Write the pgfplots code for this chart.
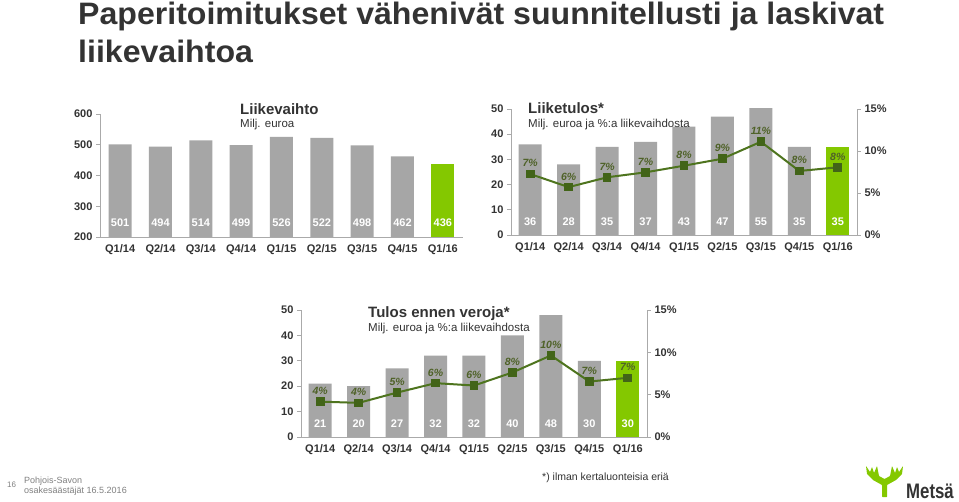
\documentclass[border=0pt]{standalone}
\usepackage{fontspec}
\setmainfont{Liberation Sans}
\usepackage{pgfplots}
\pgfplotsset{compat=1.18}
\definecolor{bargray}{RGB}{166,166,166}
\definecolor{bargreen}{RGB}{132,200,0}
\definecolor{linegreen}{RGB}{78,116,30}
\definecolor{markgreen}{RGB}{66,100,24}
\definecolor{pctgreen}{RGB}{79,98,40}
\definecolor{txt}{RGB}{51,51,51}
\definecolor{axisgray}{RGB}{170,170,170}
\definecolor{foot}{RGB}{128,128,128}
\pgfplotsset{
  qbase/.style={
    scale only axis,
    xmin=-0.5, xmax=8.5,
    xtick={0,...,8},
    xticklabels={Q1/14,Q2/14,Q3/14,Q4/14,Q1/15,Q2/15,Q3/15,Q4/15,Q1/16},
    axis x line*=bottom, axis y line*=left,
    axis line style={draw=axisgray, line width=0.8pt, -},
    x tick style={draw=none},
    y tick style={draw=axisgray, line width=0.8pt},
    major tick length=4pt,
    tick align=outside,
    tick label style={font=\fontsize{11}{13}\selectfont\bfseries, text=txt},
    clip=true,
  },
  raxis/.style={
    scale only axis,
    xmin=-0.5, xmax=8.5,
    axis x line=none, xtick=\empty,
    axis y line*=right,
    ymin=0, ymax=15,
    ytick={0,5,10,15}, yticklabels={0\%,5\%,10\%,15\%},
    axis line style={draw=axisgray, line width=0.8pt, -},
    y tick style={draw=axisgray, line width=0.8pt},
    major tick length=4pt,
    tick align=outside,
    tick label style={font=\fontsize{11}{13}\selectfont\bfseries, text=txt},
    clip=false,
  },
  gbar/.style={ybar, bar width=23pt, bar shift=0pt, fill=bargray, draw=none},
  lbar/.style={ybar, bar width=23pt, bar shift=0pt, fill=bargreen, draw=none},
  vlab/.style={draw=none, mark=none, nodes near coords, point meta=explicit symbolic,
    every node near coord/.append style={anchor=center, font=\fontsize{11}{13}\selectfont\bfseries, text=white, inner sep=0pt}},
  pline/.style={color=linegreen, line width=2pt, mark=square*, mark size=3.8pt,
    mark options={fill=markgreen, draw=markgreen, line width=0pt},
    nodes near coords, point meta=explicit symbolic,
    every node near coord/.append style={anchor=south, yshift=7pt, font=\fontsize{10.5}{12}\selectfont\bfseries\itshape, text=pctgreen, inner sep=0pt}},
}
\begin{document}
\begin{tikzpicture}[x=1pt,y=1pt]
\path[use as bounding box, fill=white] (0,0) rectangle (959,501);

% Main title
\node[anchor=base west, inner sep=0pt, text=txt, font=\fontsize{31}{36}\selectfont\bfseries, xscale=1.035] at (78,476) {Paperitoimitukset vähenivät suunnitellusti ja laskivat};
\node[anchor=base west, inner sep=0pt, text=txt, font=\fontsize{31}{36}\selectfont\bfseries, xscale=1.035] at (78,438) {liikevaihtoa};

% Chart 1: Liikevaihto
\begin{axis}[qbase, at={(100pt,264pt)}, anchor=south west, width=363pt, height=123pt,
  ymin=200, ymax=600, ytick={200,300,400,500,600}, yticklabels={200,300,400,500,600}]
\addplot[gbar] coordinates {(0,501) (1,494) (2,514) (3,499) (4,526) (5,522) (6,498) (7,462)};
\addplot[lbar] coordinates {(8,436)};
\addplot[vlab] coordinates {(0,245)[501] (1,245)[494] (2,245)[514] (3,245)[499] (4,245)[526] (5,245)[522] (6,245)[498] (7,245)[462] (8,245)[436]};
\end{axis}
\node[anchor=base west, inner sep=0pt, text=txt, font=\fontsize{15}{18}\selectfont\bfseries] at (240,386) {Liikevaihto};
\node[anchor=base west, inner sep=0pt, text=txt, font=\fontsize{11.5}{14}\selectfont] at (240,373) {Milj. euroa};

% Chart 2: Liiketulos
\begin{axis}[qbase, at={(511pt,266pt)}, anchor=south west, width=346pt, height=126pt,
  ymin=0, ymax=50, ytick={0,10,20,30,40,50}, yticklabels={0,10,20,30,40,50}]
\addplot[gbar] coordinates {(0,36) (1,28) (2,35) (3,37) (4,43) (5,47) (6,55) (7,35)};
\addplot[lbar] coordinates {(8,35)};
\addplot[vlab] coordinates {(0,5.2)[36] (1,5.2)[28] (2,5.2)[35] (3,5.2)[37] (4,5.2)[43] (5,5.2)[47] (6,5.2)[55] (7,5.2)[35] (8,5.2)[35]};
\end{axis}
\begin{axis}[raxis, at={(511pt,266pt)}, anchor=south west, width=346pt, height=126pt]
\addplot[pline] coordinates {(0,7.26)[7\%] (1,5.7)[6\%] (2,6.87)[7\%] (3,7.46)[7\%] (4,8.25)[8\%] (5,9.08)[9\%] (6,11.1)[11\%] (7,7.62)[8\%] (8,8.06)[8\%]};
\end{axis}
\node[anchor=base west, inner sep=0pt, text=txt, font=\fontsize{15}{18}\selectfont\bfseries] at (528,387) {Liiketulos*};
\node[anchor=base west, inner sep=0pt, text=txt, font=\fontsize{11.5}{14}\selectfont] at (528,373) {Milj. euroa ja \%:a liikevaihdosta};

% Chart 3: Tulos ennen veroja
\begin{axis}[qbase, at={(301pt,64pt)}, anchor=south west, width=346pt, height=127pt,
  ymin=0, ymax=50, ytick={0,10,20,30,40,50}, yticklabels={0,10,20,30,40,50}]
\addplot[gbar] coordinates {(0,21) (1,20) (2,27) (3,32) (4,32) (5,40) (6,48) (7,30)};
\addplot[lbar] coordinates {(8,30)};
\addplot[vlab] coordinates {(0,5.1)[21] (1,5.1)[20] (2,5.1)[27] (3,5.1)[32] (4,5.1)[32] (5,5.1)[40] (6,5.1)[48] (7,5.1)[30] (8,5.1)[30]};
\end{axis}
\begin{axis}[raxis, at={(301pt,64pt)}, anchor=south west, width=346pt, height=127pt]
\addplot[pline] coordinates {(0,4.18)[4\%] (1,4.03)[4\%] (2,5.25)[5\%] (3,6.36)[6\%] (4,6.08)[6\%] (5,7.62)[8\%] (6,9.63)[10\%] (7,6.55)[7\%] (8,6.99)[7\%]};
\end{axis}
\node[anchor=base west, inner sep=0pt, text=txt, font=\fontsize{15}{18}\selectfont\bfseries] at (368,183) {Tulos ennen veroja*};
\node[anchor=base west, inner sep=0pt, text=txt, font=\fontsize{11.5}{14}\selectfont] at (368,169) {Milj. euroa ja \%:a liikevaihdosta};

% Footer
\node[anchor=base west, inner sep=0pt, text=foot, font=\fontsize{8}{9}\selectfont] at (7,13) {16};
\node[anchor=base west, inner sep=0pt, text=foot, font=\fontsize{9}{10}\selectfont] at (24,18) {Pohjois-Savon};
\node[anchor=base west, inner sep=0pt, text=foot, font=\fontsize{9}{10}\selectfont] at (24,8) {osakesäästäjät 16.5.2016};
\node[anchor=base west, inner sep=0pt, text=txt, font=\fontsize{10.5}{12}\selectfont] at (542,20) {*) ilman kertaluonteisia eriä};

% Logo
\fill[bargreen, rounded corners=0.5pt] (882,4) -- (882,16) -- (873,21) -- (867,27) -- (866,35) -- (870,29) -- (872,34) -- (874,28) -- (877,35) -- (879,25) -- (884.5,22) -- (890,25) -- (892,35) -- (895,28) -- (897,34) -- (899,29) -- (903,35) -- (902,27) -- (896,21) -- (887,16) -- (887,4) -- cycle;
\node[anchor=base west, inner sep=0pt, text=txt, font=\fontsize{21}{24}\selectfont\bfseries, xscale=0.8] at (906,3) {Metsä};
\end{tikzpicture}
\end{document}
